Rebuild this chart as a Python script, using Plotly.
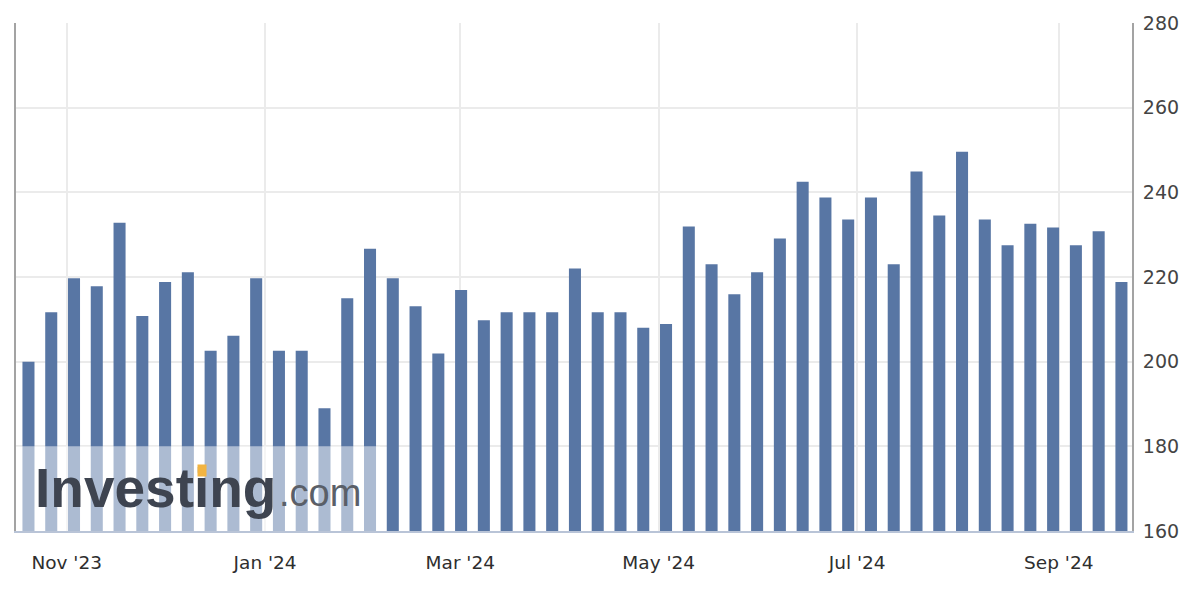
import pandas as pd
import plotly.graph_objects as go

# ---- data ----
week_dates = pd.date_range("2023-10-20 06:00", periods=49, freq="7D")
claims = [200, 211.7, 219.7, 217.8, 232.8, 210.8, 218.8, 221.1, 202.6, 206.1,
          219.7, 202.6, 202.6, 189.0, 215.0, 226.7, 219.7, 213.1, 201.9, 216.9,
          209.8, 211.7, 211.7, 211.7, 222.0, 211.7, 211.7, 208.0, 208.9, 231.9,
          223.0, 215.9, 221.1, 229.1, 242.5, 238.8, 233.6, 238.8, 223.0, 244.9,
          234.5, 249.6, 233.6, 227.5, 232.6, 231.7, 227.5, 230.8, 218.8]
x_tick_vals = ["2023-11-01", "2024-01-01", "2024-03-01", "2024-05-01", "2024-07-01", "2024-09-01"]
x_tick_text = ["Nov '23", "Jan '24", "Mar '24", "May '24", "Jul '24", "Sep '24"]
y_tick_vals = [160, 180, 200, 220, 240, 260, 280]

# ---- style ----
W, H = 1194, 590
ML, MR, MT, MB = 16, 62, 19, 59
PW, PH = W - ML - MR, H - MT - MB
BAR = "#5876a4"
GRID = "#ebebeb"
FONT = "Liberation Sans, Arial, sans-serif"
TICKFONT = "DejaVu Sans, Liberation Sans, sans-serif"
DAY_MS = 86400000


def px(xp):
    return (xp - ML) / PW


def py(yp):
    return (H - MB - yp) / PH


fig = go.Figure(go.Bar(
    x=week_dates, y=claims,
    marker=dict(color=BAR, line=dict(width=0)),
    width=3.7 * DAY_MS,
    hoverinfo="x+y",
))

fig.update_layout(
    width=W, height=H,
    margin=dict(l=ML, r=MR, t=MT, b=MB, pad=0),
    paper_bgcolor="white", plot_bgcolor="white",
    showlegend=False,
    font=dict(family=TICKFONT, size=18.5, color="#333333"),
    xaxis=dict(
        type="date",
        range=["2023-10-16 10:00", "2024-09-23 12:00"],
        tickvals=x_tick_vals, ticktext=x_tick_text,
        showgrid=True, gridcolor=GRID, gridwidth=2,
        showline=True, linecolor="#b9c4d7", linewidth=2,
        ticks="", ticklabelstandoff=14,
        zeroline=False, fixedrange=True,
        tickfont=dict(family=TICKFONT, size=18.5, color="#2e2e2e"),
    ),
    yaxis=dict(
        side="right",
        range=[160, 280],
        tickvals=y_tick_vals,
        showgrid=True, gridcolor=GRID, gridwidth=2,
        showline=True, mirror=True, linecolor="#a3a3a3", linewidth=2,
        ticks="", ticklabelstandoff=5,
        zeroline=False, fixedrange=True,
        tickfont=dict(family=TICKFONT, size=19, color="#444444"),
    ),
    shapes=[
        dict(type="rect", xref="paper", yref="y",
             x0=0, x1=px(380), y0=160, y1=180,
             fillcolor="rgba(255,255,255,0.5)", line=dict(width=0), layer="above"),
    ],
    annotations=[
        dict(text="Investing", xref="paper", yref="paper",
             x=px(33), y=py(488), xanchor="left", yanchor="middle",
             showarrow=False,
             font=dict(family=FONT, size=55, color="#3e4450", weight="bold")),
        dict(text=".com", xref="paper", yref="paper",
             x=px(277), y=py(493), xanchor="left", yanchor="middle",
             showarrow=False,
             font=dict(family=FONT, size=38, color="#5a5f68")),
        dict(text="", xref="paper", yref="paper",
             x=px(202), y=py(470), xanchor="center", yanchor="middle",
             width=8, height=11, bgcolor="#f2b441", borderpad=0,
             showarrow=False),
    ],
)

fig.write_html("out.html")
